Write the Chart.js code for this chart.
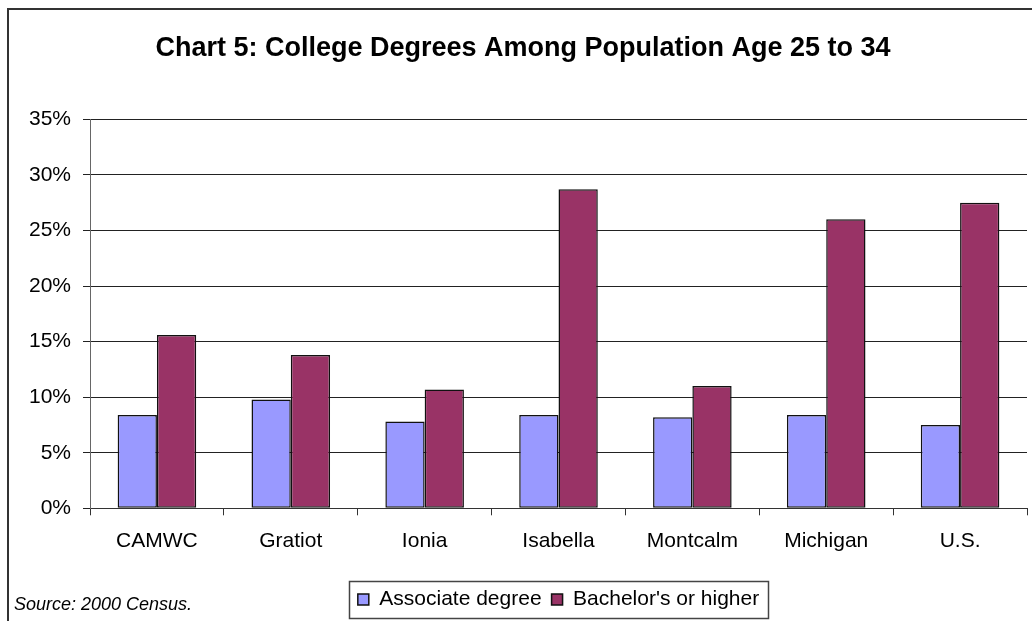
<!DOCTYPE html>
<html>
<head>
<meta charset="utf-8">
<title>Chart 5: College Degrees Among Population Age 25 to 34</title>
<script src="https://cdn.jsdelivr.net/npm/chart.js@4/dist/chart.umd.min.js"></script>
<style>
  html, body { margin: 0; padding: 0; background: #ffffff; }
  #wrap { width: 1032px; height: 621px; position: relative; }
</style>
</head>
<body>
<div id="wrap"><canvas id="chart" width="1032" height="621"></canvas></div>
<script>
// Areas compared
const categories = ['CAMWC', 'Gratiot', 'Ionia', 'Isabella', 'Montcalm', 'Michigan', 'U.S.'];

// Share of population aged 25 to 34 (percent)
const associateDegree = [8.4, 9.8, 7.8, 8.4, 8.2, 8.4, 7.5];
const bachelorsOrHigher = [15.6, 13.8, 10.7, 28.7, 11.0, 26.0, 27.5];

const seriesNames = ['Associate degree', "Bachelor's or higher"];
const yTicks = [0, 5, 10, 15, 20, 25, 30, 35];

const titleText = 'Chart 5: College Degrees Among Population Age 25 to 34';
const sourceText = 'Source: 2000 Census.';

const FONT = "'Liberation Sans', Arial, Helvetica, sans-serif";

// Outer frame, legend outline and source note
const decorations = {
  id: 'decorations',
  beforeDraw(chart) {
    const ctx = chart.ctx;
    ctx.save();
    ctx.fillStyle = '#ffffff';
    ctx.fillRect(0, 0, chart.width, chart.height);
    ctx.strokeStyle = '#333333';
    ctx.lineWidth = 2;
    ctx.beginPath();
    ctx.moveTo(8, chart.height);
    ctx.lineTo(8, 9);
    ctx.lineTo(chart.width, 9);
    ctx.stroke();
    ctx.restore();
  },
  afterDraw(chart) {
    const ctx = chart.ctx;
    const lg = chart.legend;
    ctx.save();
    if (lg && lg.legendHitBoxes && lg.legendHitBoxes.length) {
      const boxes = lg.legendHitBoxes;
      const left = Math.min(...boxes.map(b => b.left)) - 9;
      const right = Math.max(...boxes.map(b => b.left + b.width)) + 9;
      const top = Math.min(...boxes.map(b => b.top)) - 8;
      const bottom = Math.max(...boxes.map(b => b.top + b.height)) + 8;
      ctx.strokeStyle = '#444444';
      ctx.lineWidth = 1.5;
      ctx.strokeRect(Math.round(left) + 0.5, Math.round(top) + 0.5,
                     Math.round(right - left), Math.round(bottom - top));
    }
    ctx.fillStyle = '#000000';
    ctx.font = 'italic 18px ' + FONT;
    ctx.textAlign = 'left';
    ctx.textBaseline = 'alphabetic';
    ctx.fillText(sourceText, 14, 610);
    ctx.restore();
  }
};

new Chart(document.getElementById('chart'), {
  type: 'bar',
  data: {
    labels: categories,
    datasets: [
      {
        label: seriesNames[0],
        data: associateDegree,
        backgroundColor: '#9999FF',
        borderColor: '#111111',
        borderWidth: 1.5,
        borderSkipped: false
      },
      {
        label: seriesNames[1],
        data: bachelorsOrHigher,
        backgroundColor: '#993366',
        borderColor: '#111111',
        borderWidth: 1.5,
        borderSkipped: false
      }
    ]
  },
  options: {
    responsive: false,
    animation: false,
    devicePixelRatio: 1,
    categoryPercentage: 0.587,
    barPercentage: 1.0,
    layout: { padding: { left: 19, right: 5, top: 0, bottom: 1 } },
    plugins: {
      title: {
        display: true,
        text: titleText,
        color: '#000000',
        font: { family: FONT, size: 27, weight: 'bold', lineHeight: 1.2 },
        padding: { top: 32, bottom: 54.9 }
      },
      legend: {
        display: true,
        position: 'bottom',
        fullSize: false,
        labels: {
          color: '#000000',
          font: { family: FONT, size: 21 },
          boxWidth: 11,
          boxHeight: 11,
          padding: 10
        }
      },
      tooltip: { enabled: false }
    },
    scales: {
      x: {
        grid: {
          display: true,
          drawOnChartArea: false,
          drawTicks: true,
          tickLength: 7,
          color: '#333333',
          offset: true
        },
        border: { display: true, color: '#333333', width: 1 },
        ticks: {
          color: '#000000',
          font: { family: FONT, size: 21, lineHeight: 1.2 },
          padding: 13,
          maxRotation: 0,
          autoSkip: false
        },
        afterFit(scale) { scale.height = 70.7; }
      },
      y: {
        min: yTicks[0],
        max: yTicks[yTicks.length - 1],
        afterBuildTicks(scale) { scale.ticks = yTicks.map(v => ({ value: v })); },
        grid: {
          color: '#222222',
          lineWidth: 1,
          drawTicks: true,
          tickLength: 7
        },
        border: { display: true, color: '#666666', width: 1 },
        ticks: {
          color: '#000000',
          font: { family: FONT, size: 21 },
          padding: 12,
          callback: v => v + '%'
        },
        afterFit(scale) { scale.width = 71; }
      }
    }
  },
  plugins: [decorations]
});
</script>
</body>
</html>
